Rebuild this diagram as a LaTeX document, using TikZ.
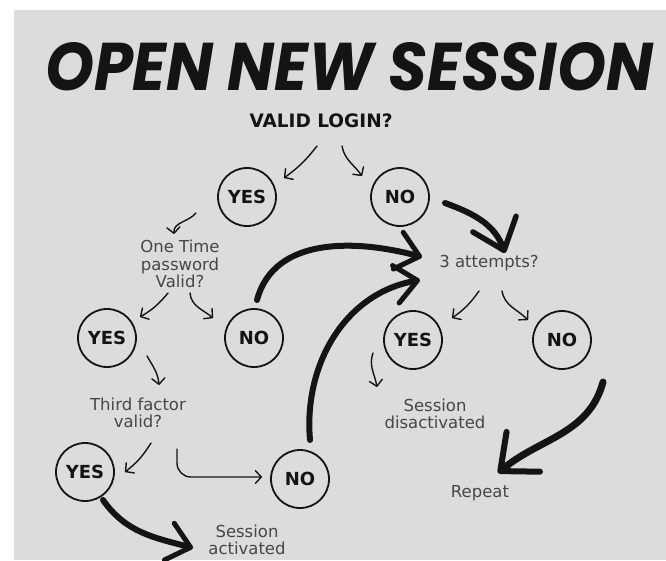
\documentclass[tikz,border=0pt]{standalone}
\usepackage{fontspec}
\setmainfont{DejaVu Sans}
\newfontfamily\titlefont{Poppins}
\usetikzlibrary{arrows.meta}
\definecolor{bg}{RGB}{220,220,220}
\definecolor{txt}{RGB}{70,70,76}
\definecolor{ink}{RGB}{20,20,20}
\begin{document}
\begin{tikzpicture}[x=1pt,y=1pt,
  yn/.style={circle,draw=ink,line width=1.8pt,minimum size=58pt,inner sep=0pt,
    font=\bfseries\fontsize{18}{18}\selectfont,text=ink},
  lbl/.style={align=center,text=txt,font=\fontsize{16.5}{17.5}\selectfont,inner sep=0pt},
  thinarr/.style={draw=ink,line width=1.4pt,line cap=round,
    -{Straight Barb[length=6pt,width=13pt,round]}},
  brushA/.style={draw=ink,line width=6pt,line cap=round,
    -{Straight Barb[length=22pt,width=38pt,line width=5pt,round]}},
  brushC/.style={draw=ink,line width=6pt,line cap=round,
    -{Straight Barb[length=28pt,width=46pt,line width=5.5pt,round]}},
  brushB/.style={draw=ink,line width=7pt,line cap=round,
    -{Straight Barb[length=30pt,width=52pt,line width=6pt,round]}}]
\useasboundingbox (0,0) rectangle (666,-560);
\fill[white] (0,0) rectangle (666,-560);
\fill[bg] (14,-10) rectangle (666,-560);

\node[inner sep=0pt,text=ink] (title) at (349,-67)
  {\resizebox{608pt}{48pt}{\titlefont\bfseries\itshape OPEN NEW SESSION}};
\node[inner sep=0pt,text=ink,font=\bfseries\fontsize{18.5}{19}\selectfont] (vl) at (321,-121) {VALID LOGIN?};

\node[yn] (yes1) at (247,-197) {YES};
\node[yn] (no1) at (400,-197) {NO};
\node[lbl] (otp) at (180,-264) {One Time\\password\\Valid?};
\node[lbl] (att) at (489,-263) {3 attempts?};
\node[yn] (yes2) at (107,-338) {YES};
\node[yn] (no2) at (254,-338) {NO};
\node[yn] (yes4) at (413,-340) {YES};
\node[yn] (no4) at (562,-340) {NO};
\node[lbl] (tf) at (138,-413) {Third factor\\valid?};
\node[lbl] (sd) at (435,-414) {Session\\disactivated};
\node[yn] (yes3) at (85,-472) {YES};
\node[yn] (no3) at (300,-479) {NO};
\node[lbl] (rep) at (480,-493) {Repeat};
\node[lbl] (sa) at (247,-540) {Session\\activated};

% thin arrows
\draw[thinarr] ([shift={(-4,-25)}]vl.center) to[bend left=8] ([shift={(37,19)}]yes1.center);
\draw[thinarr] ([shift={(21,-25)}]vl.center) to[out=-80,in=125] ([shift={(-38,21)}]no1.center);
\draw[thinarr] ([shift={(-51,-16)}]yes1.center) to[out=-130,in=95] ([shift={(-6,30)}]otp.center);
\draw[thinarr] ([shift={(-12,-29)}]otp.center) to[bend left=10] ([shift={(33,21)}]yes2.center);
\draw[thinarr] ([shift={(10,-29)}]otp.center) to[out=-85,in=140] ([shift={(-41,20)}]no2.center);
\draw[thinarr] ([shift={(40,-18)}]yes2.center) to[out=-60,in=95] ([shift={(21,28)}]tf.center);
\draw[thinarr] ([shift={(13,-30)}]tf.center) to[bend left=10] ([shift={(40,0)}]yes3.center);
\draw[thinarr,rounded corners=14pt] ([shift={(39,-36)}]tf.center) |- ([shift={(-38,2)}]no3.center);
\draw[thinarr] ([shift={(-10,-28)}]att.center) to[bend left=10] ([shift={(39,22)}]yes4.center);
\draw[thinarr] ([shift={(13,-28)}]att.center) to[out=-80,in=135] ([shift={(-34,20)}]no4.center);
\draw[thinarr] ([shift={(-40,-13)}]yes4.center) to[out=-110,in=100] ([shift={(-58,27)}]sd.center);

% brush arrows
\draw[brushC] ([shift={(45,-6)}]no1.center) to[out=-20,in=110] ([shift={(16,10)}]att.center);
\draw[brushA] ([shift={(3,38)}]no2.center) to[out=75,in=165] ([shift={(-67,6)}]att.center);
\draw[brushA] ([shift={(10,39)}]no3.center) to[out=95,in=190] ([shift={(-69,-17)}]att.center);
\draw[brushA] ([shift={(18,-28)}]yes3.center) to[out=-55,in=165] ([shift={(-54,-8)}]sa.center);
\draw[brushB] ([shift={(41,-42)}]no4.center) to[out=-105,in=40] ([shift={(18,20)}]rep.center);
\end{tikzpicture}
\end{document}
